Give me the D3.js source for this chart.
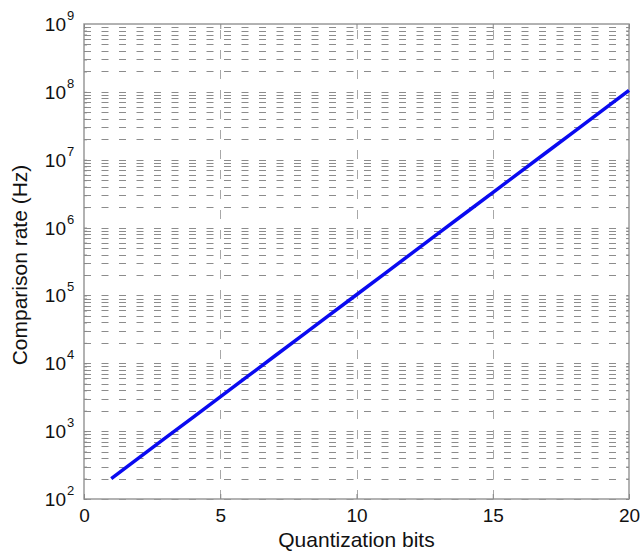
<!DOCTYPE html>
<html>
<head>
<meta charset="utf-8">
<script src="https://cdn.jsdelivr.net/npm/d3@7"></script>
<style>
  body { margin: 0; background: #fff; }
  text { font-family: "Liberation Sans", Arial, sans-serif; fill: #111; }
</style>
</head>
<body>
<div id="svg-container"></div>
<script>
let w = 642;
let h = 559;

// data
let bits = [1, 2, 3, 4, 5, 6, 7, 8, 9, 10, 11, 12, 13, 14, 15, 16, 17, 18, 19, 20];
let rates = [200, 400, 800, 1600, 3200, 6400, 12800, 25600, 51200, 102400,
  204800, 409600, 819200, 1638400, 3276800, 6553600, 13107200, 26214400, 52428800, 104857600];
let xTicks = [0, 5, 10, 15, 20];
let yExponents = [2, 3, 4, 5, 6, 7, 8, 9];
let minorMult = [1, 2, 3, 4, 5, 6, 7, 8, 9];

let pLeft = 84, pRight = 629, pTop = 24, pBottom = 499;

let svg = d3.select("#svg-container").
append('svg').
attr('width', w).
attr('height', h);

let x = d3.scaleLinear().domain([0, 20]).range([pLeft, pRight]);
let y = d3.scaleLog().domain([1e2, 1e9]).range([pBottom, pTop]);

// minor values in every decade
let minorVals = [];
yExponents.slice(0, -1).forEach(e => {
  minorMult.forEach(m => minorVals.push(m * Math.pow(10, e)));
});

// horizontal dashed grid
svg.append('g').selectAll('line').
data(minorVals).
enter().
append('line').
attr('x1', pLeft).
attr('x2', pRight).
attr('y1', d => Math.round(y(d)) + 0.5).
attr('y2', d => Math.round(y(d)) + 0.5).
attr('stroke', '#8c8c8c').
attr('stroke-width', 1).
attr('stroke-dasharray', '7,10.5');

// vertical dashed grid
svg.append('g').selectAll('line').
data(xTicks.slice(1, -1)).
enter().
append('line').
attr('x1', d => Math.round(x(d)) + 0.5).
attr('x2', d => Math.round(x(d)) + 0.5).
attr('y1', pBottom).
attr('y2', pTop).
attr('stroke', '#a8a8a8').
attr('stroke-width', 1).
attr('stroke-dasharray', '9,11');

// axes box
svg.append('rect').
attr('x', pLeft).
attr('y', pTop).
attr('width', pRight - pLeft).
attr('height', pBottom - pTop).
attr('fill', 'none').
attr('stroke', '#999').
attr('stroke-width', 1.5);

// ticks, pointing inward like matlab
let xAxisB = d3.axisBottom(x).tickValues(xTicks).tickSize(-5).tickPadding(10).tickFormat(d3.format('d'));
let xAxisT = d3.axisTop(x).tickValues(xTicks).tickSize(-5).tickFormat('');
let yAxisL = d3.axisLeft(y).tickValues(minorVals).tickSize(-3).tickFormat('');
let yAxisR = d3.axisRight(y).tickValues(minorVals).tickSize(-3).tickFormat('');

let gx = svg.append('g').attr('transform', `translate(0,${pBottom})`).call(xAxisB);
svg.append('g').attr('transform', `translate(0,${pTop})`).call(xAxisT);
svg.append('g').attr('transform', `translate(${pLeft},0)`).call(yAxisL);
svg.append('g').attr('transform', `translate(${pRight},0)`).call(yAxisR);

svg.selectAll('.domain').remove();
svg.selectAll('.tick line').attr('stroke', '#888');
gx.selectAll('text').
attr('font-size', 19).
attr('font-family', '"Liberation Sans", Arial, sans-serif').
attr('fill', '#111');

// y tick labels 10^n
let yl = svg.append('g').selectAll('g').
data(yExponents).
enter().
append('g').
attr('transform', d => `translate(0,${y(Math.pow(10, d))})`);

yl.append('text').
attr('x', 66).
attr('y', 7).
attr('text-anchor', 'end').
attr('font-size', 19).
text('10');

yl.append('text').
attr('x', 67).
attr('y', -4).
attr('font-size', 13).
text(d => d);

// the line
let line = d3.line().
x((d, i) => x(bits[i])).
y(d => y(d));

svg.append('path').
datum(rates).
attr('d', line).
attr('fill', 'none').
attr('stroke', '#0a0af0').
attr('stroke-width', 3.5);

// axis titles
svg.append('text').
attr('x', (pLeft + pRight) / 2).
attr('y', 547).
attr('text-anchor', 'middle').
attr('font-size', 21).
text('Quantization bits');

svg.append('text').
attr('transform', 'translate(27,265) rotate(-90)').
attr('text-anchor', 'middle').
attr('font-size', 21).
text('Comparison rate (Hz)');
</script>
</body>
</html>
